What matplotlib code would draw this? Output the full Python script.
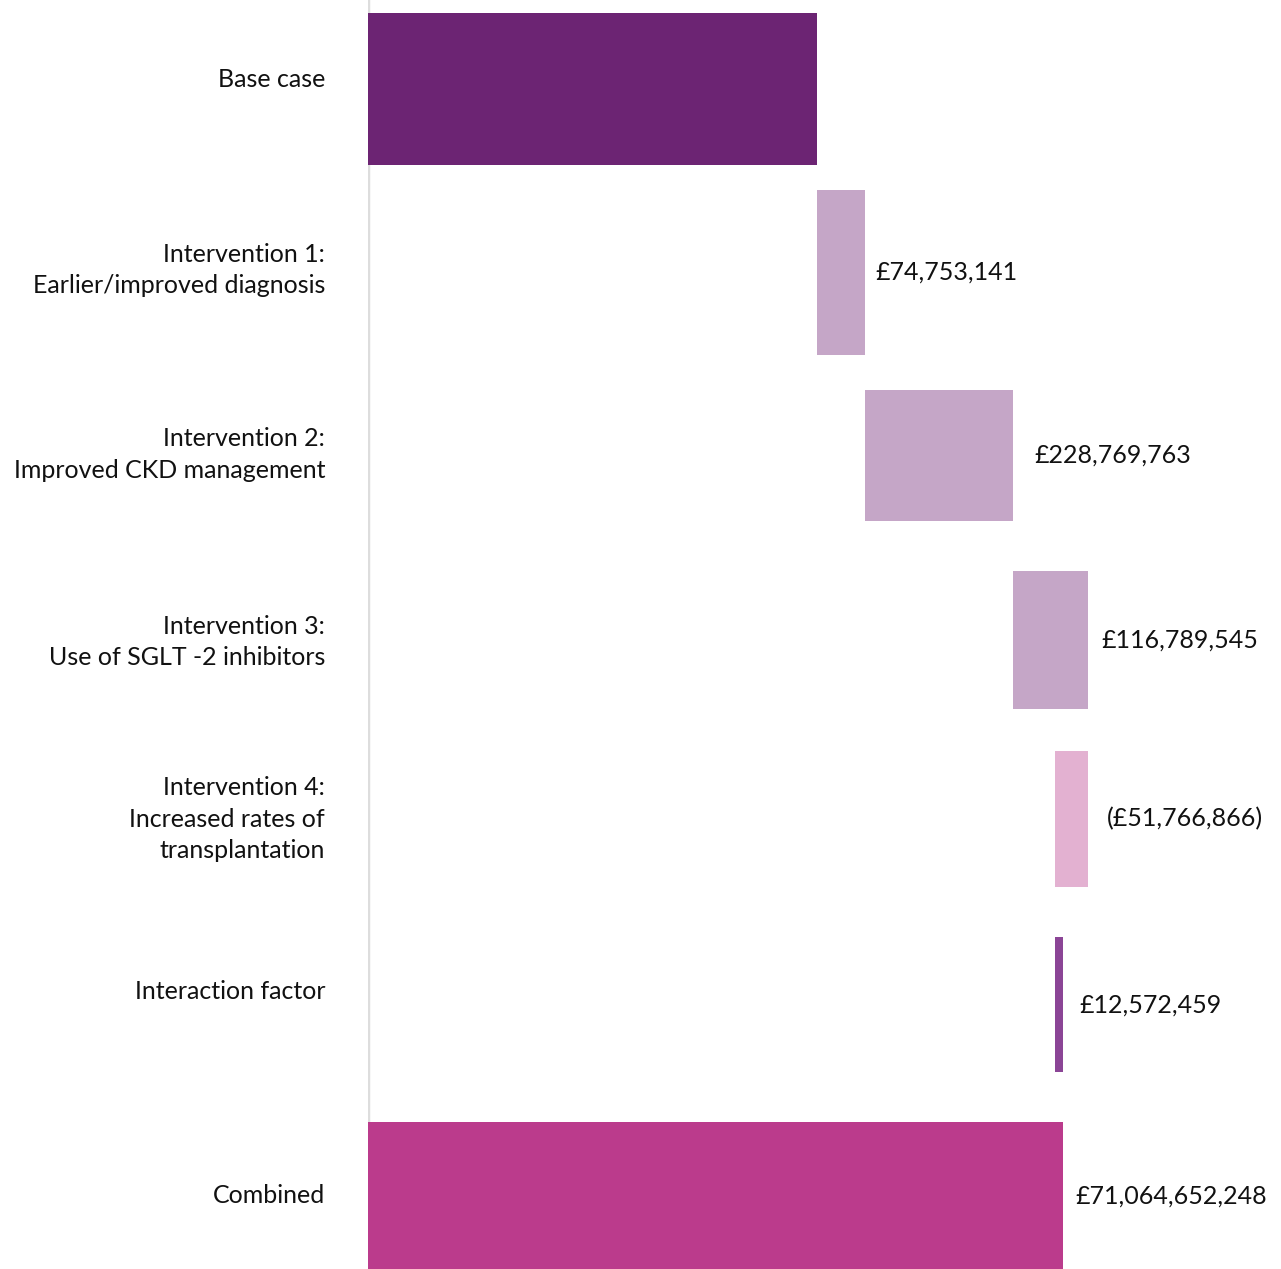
import matplotlib.pyplot as plt

labels = ["Base case", "Intervention 1:\nEarlier/improved diagnosis",
          "Intervention 2:\nImproved CKD management",
          "Intervention 3:\nUse of SGLT -2 inhibitors",
          "Intervention 4:\nIncreased rates of\ntransplantation",
          "Interaction factor", "Combined"]
steps = [74753141, 228769763, 116789545, -51766866, 12572459]
combined = 71064652248
base = combined - sum(steps)
value_text = ["", "£74,753,141", "£228,769,763", "£116,789,545",
              "(£51,766,866)", "£12,572,459", "£71,064,652,248"]

colors = ["#6c2473", "#c5a6c7", "#c5a6c7", "#c5a6c7", "#e3b1d1", "#8b4596", "#bb3b8c"]
heights = [0.825, 0.895, 0.711, 0.749, 0.738, 0.732, 0.797]
row_y = [0, 0.995, 1.988, 2.989, 3.96, 4.967, 6.003]
label_y = [-0.054, 0.982, 1.983, 2.999, 3.96, 4.893, 6.0]
label_pad = [0, 10, 22, 13, 19, 16, 12]  # px gap between bar end and value

plt.rcParams['font.family'] = ['Lato', 'DejaVu Sans']

fig = plt.figure(figsize=(12.81, 12.69), dpi=100)
ax = fig.add_axes([368 / 1281, 0, 1 - 368 / 1281, 1])

# axis origin is cut well above zero, like the original
x0 = 69.988e9
px = (combined - base) / 246.0
ax.set_xlim(x0, x0 + (1281 - 368) * px)
ax.set_ylim(6.40, -0.483)

lefts = [x0]
widths = [base - x0]
run = base
for s in steps:
    lefts.append(min(run, run + s))
    widths.append(abs(s))
    run += s
lefts.append(x0)
widths.append(combined - x0)

ax.barh(row_y, widths, left=lefts, height=heights, color=colors, zorder=2)

for i in range(1, len(labels)):
    end = lefts[i] + widths[i]
    ax.annotate(value_text[i], (end, row_y[i]), xytext=(label_pad[i] * 0.72, 0),
                textcoords="offset points", va="center", ha="left",
                fontsize=18, color="#111111")

for i, lab in enumerate(labels):
    ax.text(x0 - 43 * px, label_y[i], lab, ha="right", va="center",
            fontsize=18, color="#111111", linespacing=1.45, clip_on=False)

ax.axvline(x0, color="#dddddd", lw=2.5, zorder=1)
for sp in ax.spines.values():
    sp.set_visible(False)
ax.set_xticks([])
ax.set_yticks([])

fig.savefig("out.png", dpi=100)
